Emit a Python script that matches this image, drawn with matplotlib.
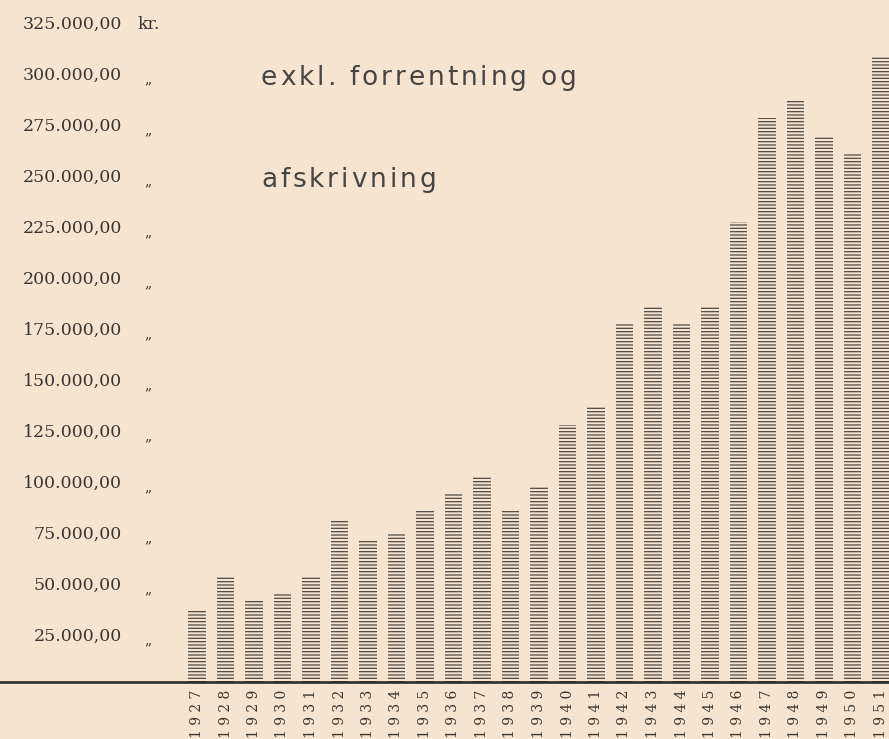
import matplotlib
matplotlib.use("Agg")
import matplotlib.pyplot as plt
import matplotlib.transforms as mtransforms
from matplotlib.font_manager import FontProperties, findfont
from matplotlib.ft2font import FT2Font

# ---- data ----
years = [1927, 1928, 1929, 1930, 1931, 1932, 1933, 1934, 1935, 1936, 1937, 1938,
         1939, 1940, 1941, 1942, 1943, 1944, 1945, 1946, 1947, 1948, 1949, 1950, 1951]
values = [35000, 51600, 40700, 43100, 51600, 79100, 70000, 72900, 84300, 92800,
          100600, 84300, 95400, 126000, 134700, 176100, 184300, 175800, 184300,
          225600, 276300, 285000, 267300, 259200, 306900]
tick_values = [25000, 50000, 75000, 100000, 125000, 150000, 175000, 200000,
               225000, 250000, 275000, 300000, 325000]
tick_labels = ["25.000,00", "50.000,00", "75.000,00", "100.000,00", "125.000,00",
               "150.000,00", "175.000,00", "200.000,00", "225.000,00", "250.000,00",
               "275.000,00", "300.000,00", "325.000,00"]
unit_label = "kr."
ditto = "\u201e"
title_lines = ["exkl. forrentning og", "afskrivning"]

# ---- layout ----
W, H, DPI = 889, 739, 100
BG = "#f6e4d0"
INK = "#3b3531"
BAR_INK = "#4f4a44"

X0_PX, STEP_PX = 197.0, 28.5        # first bar centre, bar spacing
BASE_PX, PX_PER_25K = 682.0, 51.0   # baseline (from top), pixels per 25 000
VPP = 25000.0 / PX_PER_25K

def px_x(px):
    return (px - X0_PX) / STEP_PX

plt.rcParams["hatch.linewidth"] = 0.9
fig = plt.figure(figsize=(W / DPI, H / DPI), dpi=DPI, facecolor=BG)
ax = fig.add_axes([0, 0, 1, 1])
ax.set_facecolor(BG)
ax.set_xlim(px_x(0), px_x(W))
ax.set_ylim(-(H - BASE_PX) * VPP, BASE_PX * VPP)
ax.axis("off")

xs = list(range(len(years)))
ax.bar(xs, values, width=0.6, facecolor="none", edgecolor=BAR_INK,
       linewidth=0, hatch="-----", zorder=2)

# baseline
ax.axhline(0, color="#2f2b28", lw=1.9, zorder=3)

# y labels
serif = "DejaVu Serif"
off = mtransforms.ScaledTranslation(0, -5 / DPI, fig.dpi_scale_trans)
for v, lab in zip(tick_values, tick_labels):
    ax.text(px_x(122), v, lab, ha="right", va="center", family=serif,
            fontsize=12.5, color=INK, transform=ax.transData + off)
    if v == tick_values[-1]:
        ax.text(px_x(137), v, unit_label, ha="left", va="center", family=serif,
                fontsize=12.5, color=INK, transform=ax.transData + off)
    else:
        ax.text(px_x(144), v, ditto, ha="left", va="center", family=serif,
                fontsize=10, color=INK,
                transform=ax.transData + mtransforms.ScaledTranslation(0, -9 / DPI, fig.dpi_scale_trans))

# x labels (rotated, letter-spaced)
xl_trans = mtransforms.blended_transform_factory(ax.transData, fig.transFigure)
for i, y in enumerate(years):
    ax.text(i, (H - 690) / H, " ".join(str(y)), rotation=90, ha="center", va="top",
            family=serif, fontsize=10, color=INK, transform=xl_trans)

# title with letter spacing
def spaced(x_px, y_top_px, s, size, spacing):
    fp = FontProperties(family="DejaVu Sans")
    font = FT2Font(findfont(fp))
    font.set_size(size, DPI)
    x = x_px
    for ch in s:
        fig.text(x, H - y_top_px, ch, transform=mtransforms.IdentityTransform(),
                 family="DejaVu Sans", fontsize=size, color="#474442",
                 ha="left", va="baseline")
        g = font.load_char(ord(ch))
        x += g.linearHoriAdvance / 65536 + spacing

spaced(261, 85, title_lines[0], 19, 2.9)
spaced(261, 187, title_lines[1], 19, 2.9)

fig.savefig("out.png", dpi=DPI, facecolor=BG)
